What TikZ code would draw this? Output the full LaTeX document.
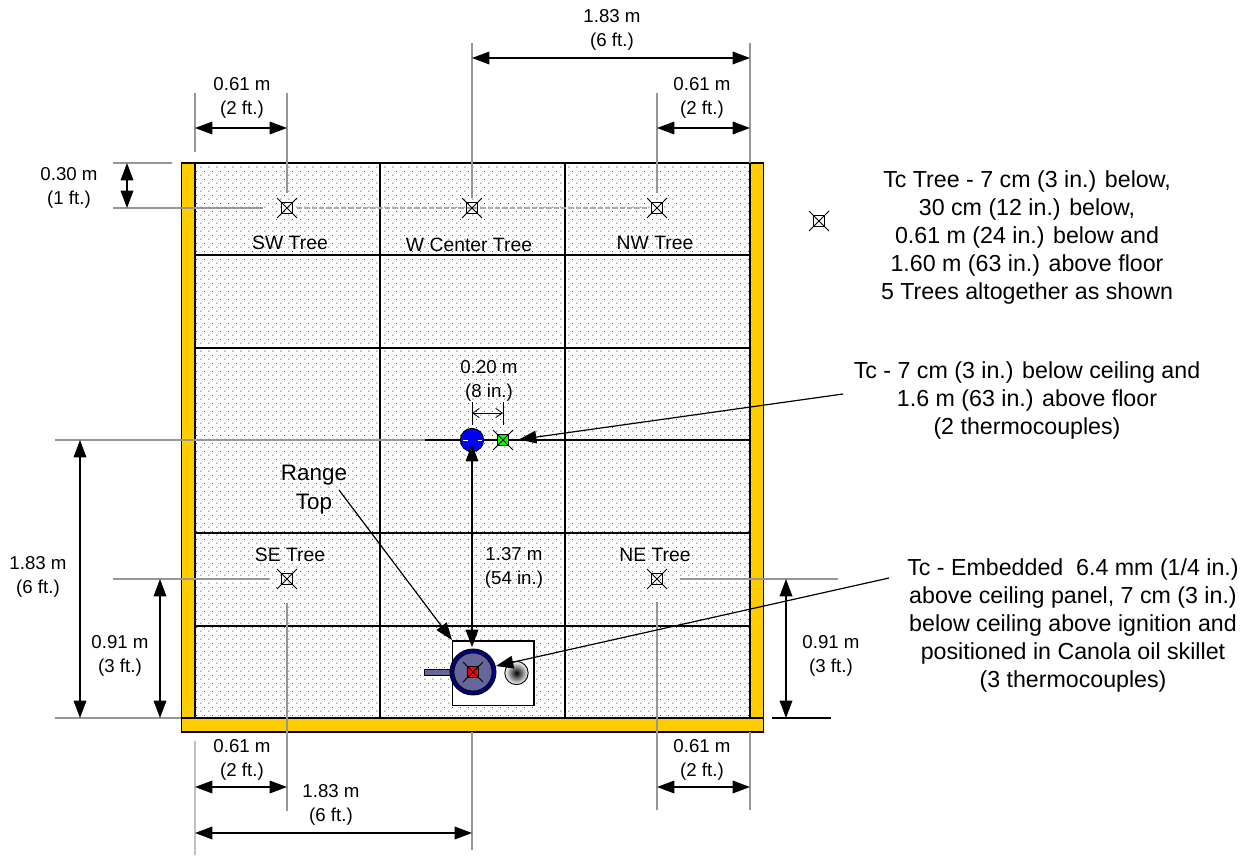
\documentclass[tikz,border=0pt]{standalone}
\usepackage{fontspec}
\setmainfont{Liberation Sans}
\usetikzlibrary{arrows.meta,patterns,calc}
\pgfdeclarepatternformonly{ceil}{\pgfpointorigin}{\pgfqpoint{6pt}{6pt}}{\pgfqpoint{6pt}{6pt}}{
  \pgfpathrectangle{\pgfqpoint{0.4pt}{0.4pt}}{\pgfqpoint{0.8pt}{0.8pt}}
  \pgfpathrectangle{\pgfqpoint{3.4pt}{3.4pt}}{\pgfqpoint{0.8pt}{0.8pt}}
  \pgfusepath{fill}}
\definecolor{wall}{HTML}{FFCC00}
\definecolor{dimgray}{HTML}{969696}
\definecolor{burner}{HTML}{666699}
\definecolor{ringblue}{HTML}{000080}
\tikzset{
  x=0.75pt,y=-0.75pt,
  txt/.style={align=center,font=\fontsize{14}{18}\selectfont,inner sep=0pt},
  tree/.style={align=center,font=\fontsize{14.5}{18}\selectfont,inner sep=0pt},
  note/.style={align=center,font=\fontsize{17.4}{21}\selectfont,inner sep=0pt},
  ext/.style={draw=dimgray,line width=0.9pt},
  grid/.style={draw=black,line width=0.9pt},
  dim/.style={draw=black,line width=0.9pt,{Triangle[length=13pt,width=9.5pt]}-{Triangle[length=13pt,width=9.5pt]}},
  lead/.style={draw=black,line width=0.9pt,-{Triangle[length=13pt,width=9.5pt]}},
  tc/.style={draw=black,line width=0.7pt,minimum size=8pt,inner sep=0pt},
}
\newcommand{\tcx}[4][none]{%
  \node[tc,fill=#1] (#2) at (#3,#4) {};
  \draw[black,line width=0.7pt] ($(#2)+(-10,-10)$) -- ($(#2)+(10,10)$);
  \draw[black,line width=0.7pt] ($(#2)+(10,-10)$) -- ($(#2)+(-10,10)$);}
\begin{document}
\begin{tikzpicture}
\useasboundingbox (0,0) rectangle (1250,856);
% ceiling
\fill[white] (195,163) rectangle (750,718);
\fill[pattern=ceil,pattern color=black!75] (195,163) rectangle (750,718);
\foreach \yy in {163,255,348,440,533,626} \draw[grid] (195,\yy) -- (750,\yy);
\foreach \xx in {380,565} \draw[grid] (\xx,163) -- (\xx,718);
% walls
\filldraw[fill=wall,draw=black,line width=0.9pt] (181.5,163) rectangle (195,718);
\filldraw[fill=wall,draw=black,line width=0.9pt] (750,163) rectangle (763.5,718);
\filldraw[fill=wall,draw=black,line width=0.9pt] (181.5,718) rectangle (763.5,732);
% dimension anchors
\foreach \n/\a/\b in {a1/472/58,a2/750/58,b1/195/128,b2/287/128,c1/657/128,c2/750/128,
  d1/127/163,d2/127/208,e1/80/440,e2/80/718,f1/160/579,f2/160/718,g1/786/579,g2/786/718,
  h1/195/787,h2/287/787,i1/657/787,i2/750/787,j1/195/833,j2/472/833,
  k1/472/444,k2/472/647,l1/472/413,l2/503/413,
  m/339/490,mt/452/640,n/843/394,nt/519/439.5,o/889/578,ot/496/666}
  \coordinate (\n) at (\a,\b);
% extension lines
\draw[ext] (472,43) -- (472,198);
\draw[ext] (750,43) -- (750,163);
\draw[ext] (195,93) -- (195,152);
\draw[ext] (287,93) -- (287,193);
\draw[ext] (657,93) -- (657,193);
\draw[ext] (113,163) -- (172,163);
\draw[ext] (113,208) -- (263,208);
\draw[ext,dash pattern=on 4pt off 1.5pt,draw=dimgray!80] (297,208) -- (647,208);
\draw[ext] (55,440) -- (425,440);
\draw[black,line width=0.9pt] (425,440) -- (460,440);
\draw[ext] (55,718) -- (181,718);
\draw[ext] (113,579) -- (270,579);
\draw[ext] (680,579) -- (838,579);
\draw[black,line width=0.9pt] (772,718) -- (831,718);
\draw[ext,draw=dimgray!60] (195,741) -- (195,855);
\draw[ext] (287,603) -- (287,811);
\draw[ext] (472,732) -- (472,850);
\draw[ext] (657,602) -- (657,810);
\draw[ext] (750,732) -- (750,810);
% dimensions
\draw[dim] (a1) -- (a2);
\draw[dim] (b1) -- (b2);
\draw[dim] (c1) -- (c2);
\draw[dim] (d1) -- (d2);
\draw[dim] (e1) -- (e2);
\draw[dim] (f1) -- (f2);
\draw[dim] (g1) -- (g2);
\draw[dim] (h1) -- (h2);
\draw[dim] (i1) -- (i2);
\draw[dim] (j1) -- (j2);
% small dimension
\draw[black,line width=0.6pt] (472,402) -- (472,425) (503,402) -- (503,425);
\draw[black,line width=0.6pt,{Straight Barb[length=5pt,width=7pt]}-{Straight Barb[length=5pt,width=7pt]}] (l1) -- (l2);
% range top
\draw[fill=white,draw=black,line width=0.9pt] (452.5,641) rectangle (534,705.5);
\draw[fill=burner,draw=black,line width=0.7pt] (424,669) rectangle (450,675);
\node[circle,draw=black,fill=ringblue,line width=0.7pt,minimum size=34.5pt,inner sep=0pt] (ring) at (473,672) {};
\node[circle,draw=black,fill=burner,line width=0.5pt,minimum size=28.5pt,inner sep=0pt] (burn) at (473,672) {};
\shade[inner color=black,outer color=white,draw=none] (516.5,673) circle (11.7);
\node[circle,draw=black,line width=0.7pt,minimum size=17.5pt,inner sep=0pt] (burn2) at (516.5,673) {};
\tcx[red]{tcr}{473}{672}
% centre
\node[circle,draw=black,fill=blue,line width=0.7pt,minimum size=17.5pt,inner sep=0pt] (sprk) at (472,440) {};
\draw[white,line width=1pt] (463,440.5) -- (468,440.5) (478,440.5) -- (482,440.5);
\tcx[green]{tcg}{503}{440}
% centre dim and leaders
\draw[dim] (k1) -- (k2);
\draw[lead] (m) -- (mt);
\draw[lead] (n) -- (nt);
\draw[lead] (o) -- (ot);
% trees
\tcx{sw}{287}{208}
\tcx{wc}{472}{208}
\tcx{nw}{657}{208}
\tcx{se}{287}{579}
\tcx{ne}{657}{579}
\tcx{leg}{819}{221}
% labels
\node[txt] (t1) at (612,30) {1.83 m\\(6 ft.)};
\node[txt] (t2) at (242,98) {0.61 m\\(2 ft.)};
\node[txt] (t3) at (702,98) {0.61 m\\(2 ft.)};
\node[txt] (t4) at (69,187.5) {0.30 m\\(1 ft.)};
\node[txt] (t5) at (38,577) {1.83 m\\(6 ft.)};
\node[txt] (t6) at (120,656) {0.91 m\\(3 ft.)};
\node[txt] (t7) at (831,656) {0.91 m\\(3 ft.)};
\node[txt] (t8) at (242,760) {0.61 m\\(2 ft.)};
\node[txt] (t9) at (702,760) {0.61 m\\(2 ft.)};
\node[txt] (t10) at (331,805) {1.83 m\\(6 ft.)};
\node[txt] (t11) at (514,568) {1.37 m\\(54 in.)};
\node[txt] (t12) at (489,381) {0.20 m\\(8 in.)};
\node[txt,font=\fontsize{16.8}{21.7}\selectfont] (t13) at (314,490) {Range\\Top};
\node[tree] (s1) at (290,243) {SW Tree};
\node[tree] (s2) at (469,245) {W Center Tree};
\node[tree] (s3) at (655,243) {NW Tree};
\node[tree] (s4) at (290,555) {SE Tree};
\node[tree] (s5) at (655,555) {NE Tree};
\node[note] (n1) at (1027,237.5) {Tc Tree - 7 cm (3 in.) below,\\30 cm (12 in.) below,\\0.61 m (24 in.) below and\\1.60 m (63 in.) above floor\\5 Trees altogether as shown};
\node[note] (n2) at (1027,400) {Tc - 7 cm (3 in.) below ceiling and\\1.6 m (63 in.) above floor\\(2 thermocouples)};
\node[note] (n3) at (1073,625) {Tc - Embedded~ 6.4 mm (1/4 in.)\\above ceiling panel, 7 cm (3 in.)\\below ceiling above ignition and\\positioned in Canola oil skillet\\(3 thermocouples)};
\end{tikzpicture}
\end{document}
